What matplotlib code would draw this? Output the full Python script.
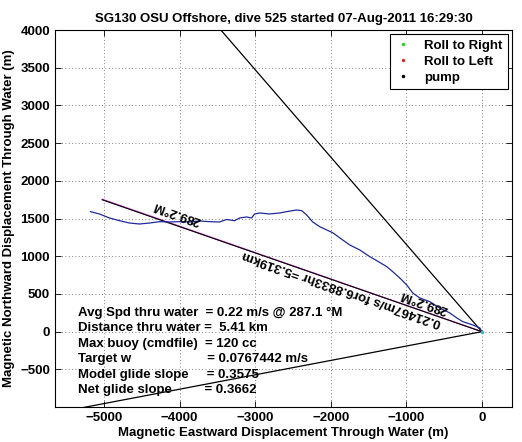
import numpy as np
import matplotlib
matplotlib.use("Agg")
import matplotlib.pyplot as plt
from matplotlib.lines import Line2D

plt.rcParams['font.family'] = ['Liberation Sans', 'DejaVu Sans']
plt.rcParams['font.weight'] = 'bold'
plt.rcParams['axes.labelweight'] = 'bold'
plt.rcParams['axes.titleweight'] = 'bold'
plt.rcParams['font.size'] = 9.5

title = "SG130 OSU Offshore, dive 525 started 07-Aug-2011 16:29:30"

# glider track (east, north) in metres through water
track_x = [0, -26, -119, -252, -331, -424, -556, -689, -821, -914, -993, -1086,
           -1179, -1258, -1391, -1483, -1616, -1748, -1841, -1974, -2053, -2146,
           -2238, -2318, -2384, -2450, -2583, -2675, -2808, -2940, -3007, -3046,
           -3113, -3205, -3272, -3377, -3470, -3603, -3735, -3868, -4000, -4132,
           -4265, -4397, -4530, -4662, -4795, -4927, -5060, -5179]
track_y = [0, 49, 89, 133, 182, 248, 314, 398, 447, 513, 619, 712,
           796, 862, 942, 995, 1084, 1150, 1216, 1313, 1349, 1393,
           1455, 1548, 1605, 1614, 1592, 1574, 1561, 1574, 1561, 1508,
           1521, 1508, 1472, 1488, 1455, 1459, 1468, 1455, 1459, 1455,
           1459, 1441, 1428, 1441, 1472, 1508, 1561, 1592]

# heading lines (deg magnetic) and their lengths (m)
course_heading = 289.2
course_km = 5.319
course_heading_alt = 289.27
side_headings = [319.2, 259.2]
side_length = 7000

stats_labels = ["Avg Spd thru water  = 0.22 m/s @ 287.1 \u00b0M",
                "Distance thru water =  5.41 km",
                "Max buoy (cmdfile)  = 120 cc",
                "Target w                     = 0.0767442 m/s",
                "Model glide slope     = 0.3575",
                "Net glide slope         = 0.3662"]
speed_label = "0.21467m/s for6.8833hr =5.319km"
heading_label = "289.2\u00b0M"

legend_names = ["Roll to Right", "Roll to Left", "pump"]
legend_colors = ["#33cc33", "#cc3333", "black"]

xticks = np.arange(-5000, 1, 1000)
yticks = np.arange(-500, 4001, 500)


def heading_xy(h, length):
    r = np.deg2rad(h)
    return [0, length * np.sin(r)], [0, length * np.cos(r)]


fig = plt.figure(figsize=(5.22, 4.42), dpi=100)
ax = fig.add_axes([0.105, 0.079, 0.876, 0.853])

for h in side_headings:
    lx, ly = heading_xy(h, side_length)
    ax.plot(lx, ly, color='black', lw=0.9)

cx, cy = heading_xy(course_heading, course_km * 1000)
mx, my = heading_xy(course_heading_alt, course_km * 1000)
ax.plot(mx, my, color='#dd33dd', lw=0.9)
ax.plot(cx, cy, color='black', lw=0.8)

ax.plot(track_x, track_y, color='#1f2a9c', lw=0.9)
ax.plot([0], [0], '.', color='#33bbbb', ms=3)

rot = np.degrees(np.arctan2(np.cos(np.deg2rad(course_heading)),
                            np.sin(np.deg2rad(course_heading))))
ax.text(-4026, 1580, heading_label, rotation=rot, rotation_mode='anchor',
        ha='center', va='center')
ax.text(-768, 394, heading_label, rotation=rot, rotation_mode='anchor',
        ha='center', va='center')
ax.text(-1854, 575, speed_label, rotation=rot, rotation_mode='anchor',
        ha='center', va='center')

for i, s in enumerate(stats_labels):
    ax.text(-5338, 248 - i * 204, s, ha='left', va='center')

ax.set_xlim(-5650, 400)
ax.set_ylim(-1000, 4000)
ax.set_xticks(xticks)
ax.set_yticks(yticks)
ax.set_xticklabels([str(t).replace('-', '\u2212') for t in xticks], fontweight='bold')
ax.set_yticklabels([str(t).replace('-', '\u2212') for t in yticks], fontweight='bold')
ax.tick_params(direction='in', top=True, right=True, length=4, width=0.6)
ax.grid(True, linestyle=(0, (1, 3)), color='0.35', lw=0.6)
for sp in ax.spines.values():
    sp.set_linewidth(0.8)

ax.set_title(title, fontsize=9.5, fontweight='bold', pad=6)
ax.set_xlabel("Magnetic Eastward Displacement Through Water (m)", labelpad=2)
ax.set_ylabel("Magnetic Northward Displacement Through Water (m)", labelpad=4)

handles = [Line2D([], [], ls='', marker='.', ms=3, color=c) for c in legend_colors]
leg = ax.legend(handles, legend_names, loc='upper right', fancybox=False,
                framealpha=1, edgecolor='black', borderaxespad=0.3,
                handlelength=1.2, handletextpad=1.0, labelspacing=0.3)
leg.get_frame().set_linewidth(0.8)

fig.savefig("out.png", dpi=100)
